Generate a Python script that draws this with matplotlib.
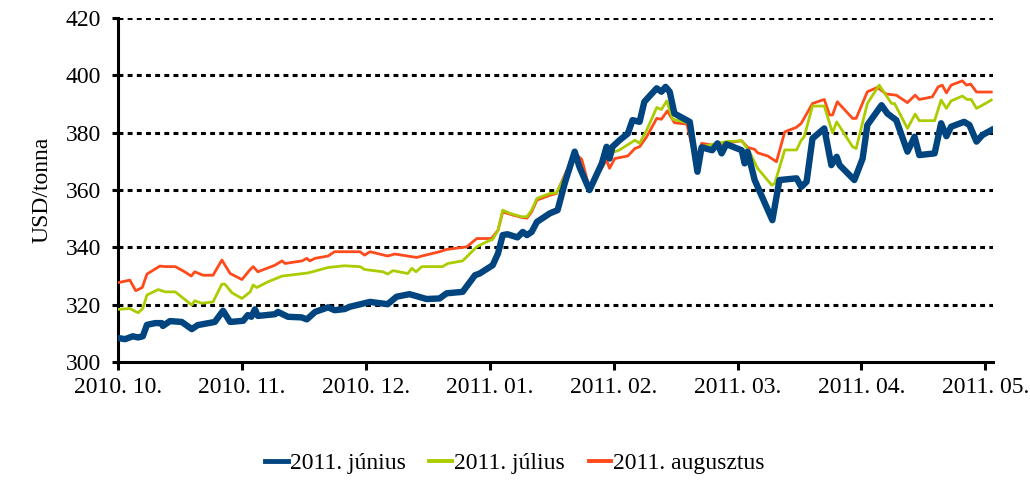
import matplotlib.pyplot as plt

# trading-day index (21 per month on the category axis) and USD/tonna
jun_day = [0.0, 1.2, 2.5, 3.4, 4.2, 4.9, 6.3, 7.4, 7.6, 8.8, 10.8, 12.5, 13.5, 16.4, 17.8, 19.0,
           21.2, 22.0, 22.6, 23.2, 23.7, 26.6, 27.1, 28.8, 31.1, 32.0, 33.4, 35.6, 36.7, 38.4,
           39.3, 42.7, 45.7, 47.2, 49.4, 50.6, 52.3, 54.5, 55.7, 58.4, 60.5, 61.3, 63.5, 64.4,
           65.2, 66.0, 67.7, 68.6, 69.3, 70.1, 71.0, 73.2, 74.5, 75.7, 77.4, 78.2, 79.9, 82.0,
           82.8, 83.3, 83.8, 85.0, 86.4, 87.2, 88.4, 89.2, 91.3, 92.1, 92.8, 93.5, 94.3, 96.9,
           98.2, 98.9, 100.7, 101.6, 102.3, 103.1, 105.7, 106.2, 106.7, 107.9, 110.9, 112.1,
           115.0, 115.8, 116.7, 117.7, 119.7, 120.9, 121.8, 122.3, 124.8, 126.2, 127.0, 129.4,
           130.4, 131.9, 133.8, 135.0, 135.8, 138.4, 139.5, 140.4, 141.2, 143.4, 144.3, 145.5,
           146.5, 148.0]
jun_val = [308.4, 308.0, 309.0, 308.6, 309.0, 313.0, 313.6, 313.6, 312.6, 314.3, 314.0, 311.5,
           312.9, 314.0, 317.9, 314.0, 314.4, 316.4, 315.8, 318.4, 316.1, 316.7, 317.5, 315.8,
           315.6, 314.9, 317.5, 319.1, 318.1, 318.5, 319.3, 321.0, 320.2, 322.8, 323.7, 323.0,
           322.0, 322.2, 324.0, 324.5, 330.3, 330.9, 333.8, 337.9, 344.3, 344.6, 343.5, 345.4,
           344.3, 345.4, 348.9, 351.9, 353.0, 362.3, 373.4, 368.1, 360.0, 369.3, 375.1, 371.0,
           375.1, 377.4, 379.7, 384.4, 383.8, 390.8, 395.5, 394.3, 396.0, 394.3, 386.7, 383.8,
           366.4, 374.9, 373.9, 376.3, 372.8, 376.0, 373.9, 369.3, 373.4, 363.5, 349.5, 363.5,
           364.1, 361.1, 362.9, 378.0, 381.5, 368.7, 371.6, 368.7, 363.5, 371.0, 382.7, 389.6,
           386.7, 384.4, 373.4, 378.6, 372.2, 372.8, 383.3, 378.8, 382.1, 383.8, 382.7, 376.9,
           379.2, 380.9]

jul_day = [0.0, 2.0, 3.4, 4.2, 4.9, 6.8, 8.0, 9.7, 12.5, 13.0, 14.2, 16.1, 17.6, 18.1, 19.3,
           21.0, 22.4, 22.9, 23.5, 25.4, 27.8, 32.2, 35.6, 38.4, 41.0, 41.8, 44.9, 45.7, 46.6,
           49.1, 49.8, 50.5, 51.5, 55.0, 55.9, 58.4, 60.8, 62.5, 63.5, 64.4, 65.2, 66.4, 68.4,
           69.3, 70.1, 71.0, 73.2, 74.3, 75.7, 77.4, 78.2, 79.9, 82.8, 83.7, 85.0, 87.6, 88.4,
           89.6, 91.3, 92.1, 93.0, 94.0, 96.9, 98.2, 98.9, 103.1, 105.7, 107.0, 108.4, 110.8,
           111.3, 113.0, 115.0, 115.8, 116.3, 117.7, 119.7, 120.6, 121.1, 121.8, 124.5, 125.1,
           127.0, 129.0, 131.1, 131.6, 133.8, 135.1, 135.8, 138.4, 139.5, 140.4, 141.2, 143.1,
           143.9, 144.6, 145.5, 146.5, 148.0]
jul_val = [318.4, 318.7, 317.2, 318.7, 323.4, 325.3, 324.5, 324.5, 319.9, 321.4, 320.5, 321.0,
           327.2, 327.2, 324.2, 322.2, 324.5, 326.9, 326.0, 328.0, 330.0, 331.1, 333.0, 333.6,
           333.3, 332.3, 331.5, 330.7, 331.9, 330.9, 332.7, 331.5, 333.3, 333.3, 334.4, 335.3,
           340.2, 342.0, 342.8, 346.0, 353.0, 351.9, 350.7, 350.7, 353.0, 357.1, 358.8, 359.0,
           364.6, 371.6, 369.5, 360.6, 374.5, 373.0, 374.0, 377.4, 376.3, 380.9, 388.8, 388.1,
           391.1, 384.7, 383.3, 367.0, 375.1, 376.9, 377.2, 373.4, 367.6, 361.7, 362.3, 374.0,
           374.0, 377.4, 378.6, 389.3, 389.3, 383.3, 380.0, 383.8, 375.1, 374.5, 390.2, 396.6,
           390.2, 390.2, 381.5, 386.5, 384.2, 384.2, 391.4, 388.5, 391.1, 392.8, 391.6, 391.6,
           388.5, 389.6, 391.4]

aug_day = [0.0, 2.0, 3.0, 4.1, 4.9, 7.1, 8.0, 9.7, 11.3, 12.4, 13.0, 14.4, 16.1, 17.6, 19.0,
           21.0, 22.4, 22.9, 23.7, 26.6, 27.8, 28.3, 31.2, 32.0, 32.5, 33.4, 35.6, 36.7, 41.0,
           41.8, 42.7, 45.7, 46.9, 50.6, 51.5, 54.5, 55.7, 59.1, 60.8, 63.3, 64.4, 65.2, 66.9,
           68.4, 69.3, 70.1, 71.0, 73.2, 74.3, 75.7, 77.4, 78.6, 79.9, 82.8, 83.3, 84.2, 86.4,
           87.6, 88.4, 89.6, 91.3, 92.1, 93.1, 94.3, 96.4, 98.2, 98.9, 100.7, 105.7, 106.7,
           107.9, 108.4, 110.1, 111.6, 113.0, 115.0, 115.8, 117.7, 119.7, 120.6, 121.1, 121.9,
           124.5, 125.1, 127.0, 128.7, 130.2, 131.9, 133.8, 135.1, 135.8, 138.0, 139.0, 139.7,
           140.4, 141.2, 143.1, 143.8, 144.5, 145.5, 148.0]
aug_val = [327.7, 328.6, 324.9, 326.0, 330.7, 333.5, 333.3, 333.3, 331.5, 330.0, 331.5, 330.3,
           330.3, 335.6, 330.9, 328.8, 332.3, 333.3, 331.5, 333.8, 335.3, 334.4, 335.3, 336.2,
           335.3, 336.2, 337.0, 338.5, 338.5, 337.3, 338.5, 337.0, 337.7, 336.5, 337.0, 338.5,
           339.3, 340.2, 343.1, 343.1, 346.0, 352.4, 351.3, 350.5, 350.2, 352.4, 356.5, 358.2,
           358.8, 365.2, 372.8, 370.7, 360.6, 370.5, 367.6, 371.0, 371.9, 374.5, 375.1, 378.6,
           385.0, 384.7, 387.6, 383.5, 383.0, 367.5, 376.3, 375.7, 377.2, 374.9, 374.2, 373.0,
           371.9, 369.9, 380.3, 381.9, 383.3, 390.2, 391.6, 386.2, 386.2, 390.8, 385.0, 385.0,
           394.3, 395.8, 393.5, 393.1, 390.5, 393.1, 391.6, 392.5, 396.0, 396.6, 393.9, 396.6,
           398.1, 396.6, 397.0, 394.2, 394.2]

month_labels = ['2010. 10.', '2010. 11.', '2010. 12.', '2011. 01.',
                '2011. 02.', '2011. 03.', '2011. 04.', '2011. 05.']
days_per_month = 21

plt.rcParams['font.family'] = ['Liberation Serif', 'DejaVu Serif']

fig = plt.figure(figsize=(10.30, 4.88), dpi=100)
ax = fig.add_axes([0.1146, 0.258, 0.8495, 0.705])

ax.plot(aug_day, aug_val, color='#FF4A1C', lw=2.0, label='2011. augusztus', zorder=3)
ax.plot(jul_day, jul_val, color='#AACC00', lw=2.0, label='2011. július', zorder=3)
ax.plot(jun_day, jun_val, color='#00457F', lw=4.6, label='2011. június', zorder=4)

ax.set_xlim(0, 148.3)
ax.set_ylim(300, 420)
ax.set_yticks(range(300, 421, 20))
ax.set_xticks([i * days_per_month for i in range(len(month_labels))])
ax.set_xticklabels(month_labels)

for v in range(320, 421, 20):
    ax.axhline(v, color='black', lw=2.2, ls=(0, (1.6, 1.4)), zorder=2)

for s in ['top', 'right']:
    ax.spines[s].set_visible(False)
for s in ['left', 'bottom']:
    ax.spines[s].set_linewidth(2.2)
ax.tick_params(axis='x', direction='out', width=2.2, length=6, labelsize=17, pad=5)
ax.tick_params(axis='y', direction='out', width=2.2, length=4, labelsize=17, pad=8)

ax.set_ylabel('USD/tonna', fontsize=17, labelpad=10)

h, l = ax.get_legend_handles_labels()
leg = fig.legend(h[::-1], l[::-1], loc='lower center', bbox_to_anchor=(0.5, -0.015), ncol=3,
                 frameon=False, fontsize=17, handlelength=0.95, handletextpad=0.1,
                 columnspacing=1.0)
for line, w in zip(leg.get_lines(), [3.5, 2.8, 2.8]):
    line.set_linewidth(w)

fig.savefig('out.png', dpi=100)
